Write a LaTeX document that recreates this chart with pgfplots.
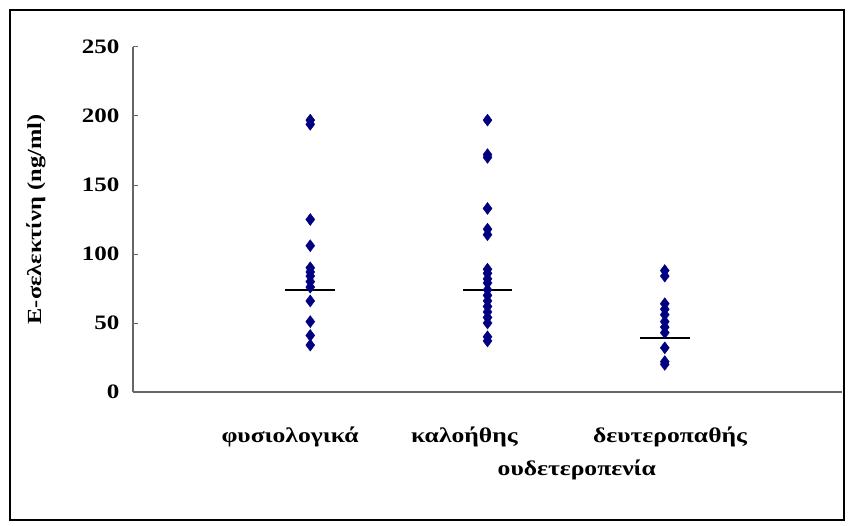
\documentclass[border=0pt]{standalone}
\usepackage{pgfplots}
\pgfplotsset{compat=1.18}
\usepackage{fontspec}
\setmainfont{Liberation Serif}[FakeStretch=1.22]
\definecolor{navyblue}{RGB}{0,0,128}
\begin{document}
\begin{tikzpicture}[x=1pt,y=1pt]
\path (0,0) rectangle (850,525);
\draw[line width=2pt] (10,5) rectangle (844,515);
\begin{axis}[
  at={(133pt,133pt)}, anchor=south west,
  scale only axis, width=709pt, height=345pt,
  xmin=0, xmax=4, ymin=0, ymax=250,
  clip=false,
  axis x line*=bottom, axis y line*=left,
  axis line style={black!60, line width=1.2pt},
  ytick={0,50,...,250},
  tick align=inside,
  major tick length=5pt,
  tick style={black!60, line width=1pt},
  /pgf/number format/assume math mode=true,
  yticklabel style={font=\bfseries\fontsize{20.5}{20.5}\selectfont, xshift=-10pt},
  xtick={0.886,1.87,3.03},
  xticklabels={φυσιολογικά, καλοήθης, δευτεροπαθής},
  x tick style={draw=none},
  xticklabel style={font=\bfseries\fontsize{21}{21}\selectfont, anchor=center, yshift=-45pt},
  xlabel={ουδετεροπενία},
  xlabel style={font=\bfseries\fontsize{21}{21}\selectfont, at={(axis description cs:0.626,0)}, anchor=center, yshift=-78pt},
  ylabel={Ε-σελεκτίνη (ng/ml)},
  ylabel style={font=\bfseries\fontsize{20}{20}\selectfont, at={(axis description cs:-0.137,0.5)}, anchor=center},
]
\addplot[only marks, mark=diamond*, mark size=6pt, color=navyblue] coordinates {
(1,197) (1,194) (1,125) (1,106) (1,90) (1,87) (1,84) (1,80) (1,76) (1,66) (1,51) (1,41) (1,34)
(2,197) (2,172) (2,170) (2,133) (2,118) (2,114) (2,89) (2,86) (2,82) (2,79) (2,74) (2,70) (2,66) (2,62) (2,58) (2,54) (2,50) (2,40) (2,37)
(3,88) (3,84) (3,64) (3,60) (3,56) (3,51) (3,47) (3,43) (3,32) (3,22) (3,20)
};
\addplot[black, line width=1.5pt] coordinates {(0.859,74) (1.141,74)};
\addplot[black, line width=1.5pt] coordinates {(1.859,74) (2.141,74)};
\addplot[black, line width=1.5pt] coordinates {(2.859,39) (3.141,39)};
\end{axis}
\end{tikzpicture}
\end{document}
